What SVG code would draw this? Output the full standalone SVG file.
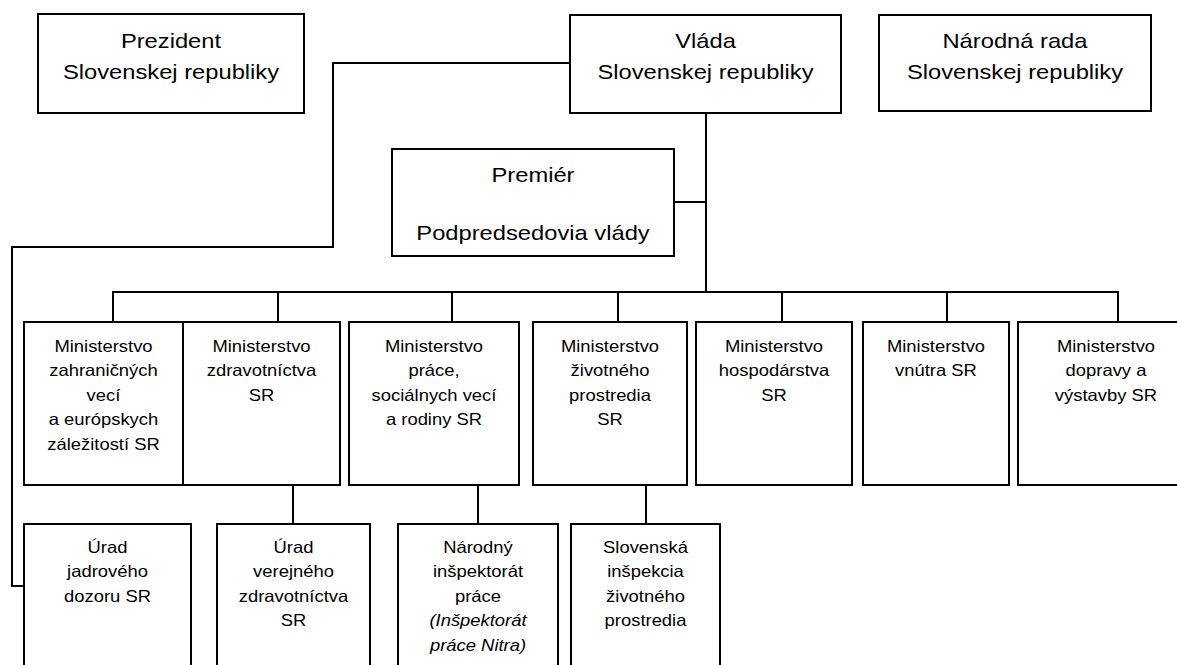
<svg xmlns="http://www.w3.org/2000/svg" width="1177" height="665" viewBox="0 0 1177 665">
<style>
rect{fill:#fff;stroke:#000;stroke-width:2}
.c path{fill:none;stroke:#000;stroke-width:2}
text{font-family:"Liberation Sans",Arial,sans-serif;fill:#000;text-anchor:middle}
.big{font-size:21px}
.sm{font-size:16.3px}
.it{font-style:italic}
</style>
<rect x="0" y="0" width="1177" height="665" style="stroke:none"/>
<g class="c" id="connectors">
<path d="M570,63 H333 V247 H12 V586 H24"/>
<path d="M706,113 V292"/>
<path d="M674,202 H706"/>
<path d="M113,322 V292 H1118 V322"/>
<path d="M278,292 V322 M452,292 V322 M618,292 V322 M782,292 V322 M947,292 V322"/>
<path d="M293,485 V524 M478,485 V524 M646,485 V524"/>
</g>
<g id="prezident"><rect x="38" y="14" width="266" height="99"/>
<text class="big" transform="translate(171,0) scale(1.13,1)"><tspan x="0" y="48">Prezident</tspan><tspan x="0" y="79">Slovenskej republiky</tspan></text></g>
<g id="vlada"><rect x="570" y="15" width="271" height="98"/>
<text class="big" transform="translate(705.5,0) scale(1.13,1)"><tspan x="0" y="48">Vláda</tspan><tspan x="0" y="79">Slovenskej republiky</tspan></text></g>
<g id="narodna-rada"><rect x="879" y="15" width="272" height="96"/>
<text class="big" transform="translate(1015,0) scale(1.13,1)"><tspan x="0" y="48">Národná rada</tspan><tspan x="0" y="79">Slovenskej republiky</tspan></text></g>
<g id="premier"><rect x="392" y="149" width="282" height="107"/>
<text class="big" transform="translate(533,0) scale(1.13,1)"><tspan x="0" y="182">Premiér</tspan><tspan x="0" y="240">Podpredsedovia vlády</tspan></text></g>
<g id="m-zahranicie"><rect x="24" y="322" width="159" height="163"/>
<text class="sm" transform="translate(103.5,0) scale(1.13,1)"><tspan x="0" y="352">Ministerstvo</tspan><tspan x="0" y="376.5">zahraničných</tspan><tspan x="0" y="401">vecí</tspan><tspan x="0" y="425.5">a európskych</tspan><tspan x="0" y="450">záležitostí SR</tspan></text></g>
<g id="m-zdravotnictvo"><rect x="183" y="322" width="157" height="163"/>
<text class="sm" transform="translate(261.5,0) scale(1.13,1)"><tspan x="0" y="352">Ministerstvo</tspan><tspan x="0" y="376.5">zdravotníctva</tspan><tspan x="0" y="401">SR</tspan></text></g>
<g id="m-prace"><rect x="349" y="322" width="170" height="163"/>
<text class="sm" transform="translate(434,0) scale(1.13,1)"><tspan x="0" y="352">Ministerstvo</tspan><tspan x="0" y="376.5">práce,</tspan><tspan x="0" y="401">sociálnych vecí</tspan><tspan x="0" y="425.5">a rodiny SR</tspan></text></g>
<g id="m-zp"><rect x="533" y="322" width="154" height="163"/>
<text class="sm" transform="translate(610,0) scale(1.13,1)"><tspan x="0" y="352">Ministerstvo</tspan><tspan x="0" y="376.5">životného</tspan><tspan x="0" y="401">prostredia</tspan><tspan x="0" y="425.5">SR</tspan></text></g>
<g id="m-hospodarstvo"><rect x="696" y="322" width="156" height="163"/>
<text class="sm" transform="translate(774,0) scale(1.13,1)"><tspan x="0" y="352">Ministerstvo</tspan><tspan x="0" y="376.5">hospodárstva</tspan><tspan x="0" y="401">SR</tspan></text></g>
<g id="m-vnutro"><rect x="863" y="322" width="146" height="163"/>
<text class="sm" transform="translate(936,0) scale(1.13,1)"><tspan x="0" y="352">Ministerstvo</tspan><tspan x="0" y="376.5">vnútra SR</tspan></text></g>
<g id="m-doprava"><rect x="1018" y="322" width="180" height="163"/>
<text class="sm" transform="translate(1106,0) scale(1.13,1)"><tspan x="0" y="352">Ministerstvo</tspan><tspan x="0" y="376.5">dopravy a</tspan><tspan x="0" y="401">výstavby SR</tspan></text></g>
<g id="ujd"><rect x="24" y="524" width="167" height="160"/>
<text class="sm" transform="translate(107.5,0) scale(1.13,1)"><tspan x="0" y="553">Úrad</tspan><tspan x="0" y="577.5">jadrového</tspan><tspan x="0" y="602">dozoru SR</tspan></text></g>
<g id="uvz"><rect x="217" y="524" width="153" height="160"/>
<text class="sm" transform="translate(293.5,0) scale(1.13,1)"><tspan x="0" y="553">Úrad</tspan><tspan x="0" y="577.5">verejného</tspan><tspan x="0" y="602">zdravotníctva</tspan><tspan x="0" y="626.5">SR</tspan></text></g>
<g id="nip"><rect x="398" y="524" width="160" height="160"/>
<text class="sm" transform="translate(478,0) scale(1.13,1)"><tspan x="0" y="553">Národný</tspan><tspan x="0" y="577.5">inšpektorát</tspan><tspan x="0" y="602">práce</tspan><tspan class="it" x="0" y="626.5">(Inšpektorát</tspan><tspan class="it" x="0" y="651">práce Nitra)</tspan></text></g>
<g id="sizp"><rect x="571" y="524" width="149" height="160"/>
<text class="sm" transform="translate(645.5,0) scale(1.13,1)"><tspan x="0" y="553">Slovenská</tspan><tspan x="0" y="577.5">inšpekcia</tspan><tspan x="0" y="602">životného</tspan><tspan x="0" y="626.5">prostredia</tspan></text></g>
</svg>
